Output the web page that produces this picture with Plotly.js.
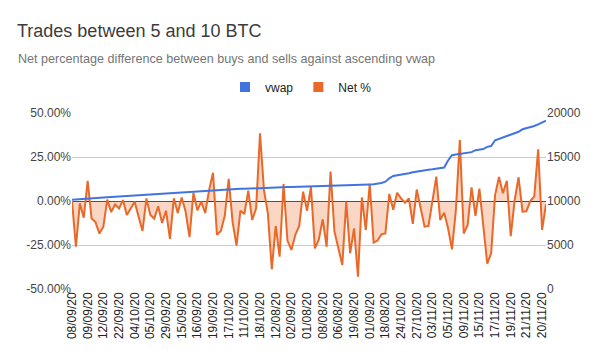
<!DOCTYPE html>
<html><head><meta charset="utf-8">
<script src="https://cdn.plot.ly/plotly-3.0.1.min.js"></script>
<style>html,body{margin:0;padding:0;background:#fff}#chart{width:600px;height:364px}</style>
</head><body><div id="chart"></div><script>
const netPct = [0, -26, -1.3, -9.5, 11.5, -10, -12, -18.5, -14.6, 0.8,
 -6.3, -2, -4.3, 0.5, -8, -4.5, -0.4, -9, -17, 1.5,
 -8, -10, -3, -12.5, -5.5, -21.5, 1.5, -6.8, 2, -6,
 -20.5, 4.7, -5.3, -0.4, -6.8, 6.2, 16, -19.2, -17, -8.4,
 12.6, -12, -25.3, -5.5, -7.4, 5.9, -10.8, -4.2, 38.4, 6.3,
 -7, -38.8, -14.2, -31.6, 9.7, -22.5, -27.8, -19.3, -14.2, 5.3,
 -5.5, 8, -26.9, -22, -10.4, -26, 16.7, -17.4, -26.9, -36.4,
 -0.4, -29.7, -15.5, -43, 2, -16.5, 9.7, -23.7, -22.5, -18.9,
 -18.4, 4, -5, 4.7, 1.5, -1, 1.5, -13, 6.5, -5,
 -14.6, -14.2, 0, 13.8, -10.8, -6.6, -15.5, -27.5, -5, 34.7,
 -18.5, -13.6, 7.8, -8.5, 7, -14.5, -35.6, -29.7, 3.4, 13.6,
 4.4, 11.5, -20, 0.5, 13.5, -6, -5.8, 0, 2.6, 29.4,
 -16.5, -1.8];

const vwap = [10150,10190,10220,10250,10280,10310,10340,10370,10400,10430,
 10460,10490,10520,10550,10580,10610,10640,10670,10700,10740,
 10780,10800,10830,10850,10880,10900,10920,10950,10970,11000,
 11020,11050,11080,11110,11150,11180,11210,11250,11280,11320,
 11350,11360,11370,11380,11390,11400,11410,11430,11440,11460,
 11480,11500,11520,11540,11560,11580,11600,11610,11630,11650,
 11660,11680,11690,11700,11720,11730,11740,11760,11770,11780,
 11800,11810,11820,11840,11850,11870,11880,11900,11950,12050,
 12190,12580,12840,12900,12950,13050,13150,13260,13350,13440,
 13500,13550,13600,13660,13720,13800,14600,15200,15280,15350,
 15420,15480,15550,15780,15840,15900,16150,16250,16900,17050,
 17200,17390,17550,17700,17870,18150,18250,18400,18520,18700,
 18900,19130];

const tickLabels = ['08/09/20','09/09/20','12/09/20','22/09/20','04/10/20','05/10/20','29/09/20','15/09/20',
 '16/09/20','19/09/20','17/10/20','11/10/20','18/10/20','12/08/20','02/09/20','01/08/20','08/08/20',
 '06/08/20','19/08/20','01/09/20','18/08/20','24/10/20','27/10/20','03/11/20','05/11/20','09/11/20',
 '15/11/20','17/11/20','19/11/20','21/11/20','20/11/20'];

const leftTicks = [-50, -25, 0, 25, 50];
const leftTickText = ['-50.00%', '-25.00%', '0.00%', '25.00%', '50.00%'];
const rightTicks = [0, 5000, 10000, 15000, 20000];
const rightTickText = ['0', '5000', '10000', '15000', '20000'];

const idx = netPct.map((_, i) => i);
const tickIdx = tickLabels.map((_, k) => k * 4);

const BLUE = '#4274e0';
const ORANGE = '#e8692a';
const FONT = 'Arial, "Liberation Sans", sans-serif';

const traces = [
  {x: idx, y: netPct, type: 'scatter', mode: 'lines', fill: 'tozeroy',
   fillcolor: 'rgba(238,120,60,0.3)', line: {color: ORANGE, width: 2},
   yaxis: 'y', showlegend: false, hoverinfo: 'skip'},
  {x: idx, y: vwap, type: 'scatter', mode: 'lines', line: {color: BLUE, width: 2},
   yaxis: 'y2', showlegend: false, hoverinfo: 'skip'},
  {x: [null], y: [null], type: 'scatter', mode: 'markers', name: 'vwap',
   marker: {symbol: 'square', size: 10, color: BLUE}},
  {x: [null], y: [null], type: 'scatter', mode: 'markers', name: 'Net %',
   marker: {symbol: 'square', size: 10, color: ORANGE}}
];

const layout = {
  width: 600, height: 364,
  margin: {l: 72, r: 54, t: 113, b: 75},
  paper_bgcolor: '#fff', plot_bgcolor: '#fff',
  font: {family: FONT, color: '#444', size: 12},
  title: {text: 'Trades between 5 and 10 BTC', x: 17/600, xanchor: 'left',
          xref: 'container', yref: 'container', y: 1 - 31/364, yanchor: 'middle',
          font: {family: FONT, size: 18, color: '#3c3c3c'}},
  annotations: [{text: 'Net percentage difference between buys and sells against ascending vwap',
    xref: 'paper', yref: 'paper', x: (16-72)/474, y: (289-59)/176, xanchor: 'left', yanchor: 'middle',
    showarrow: false, font: {family: FONT, size: 12.6, color: '#757575'}}],
  legend: {orientation: 'h', x: 0.5 - 8/474, xanchor: 'center', y: 1 + 26/176, yanchor: 'middle',
           font: {family: FONT, size: 12, color: '#222'}, itemwidth: 30, bgcolor: 'rgba(0,0,0,0)'},
  xaxis: {range: [0, 121], tickvals: tickIdx, ticktext: tickLabels, tickangle: -90,
          showgrid: false, zeroline: false, showline: false, ticks: '',
          tickfont: {family: FONT, size: 12, color: '#222'}, fixedrange: true},
  yaxis: {range: [-50, 50], tickvals: leftTicks, ticktext: leftTickText,
          gridcolor: '#cccccc', gridwidth: 1, zeroline: true, zerolinecolor: '#333', zerolinewidth: 1,
          ticks: '', showline: false, tickfont: {family: FONT, size: 12, color: '#444'}},
  yaxis2: {range: [0, 20000], tickvals: rightTicks, ticktext: rightTickText, overlaying: 'y', side: 'right',
           showgrid: false, zeroline: false, ticks: '', showline: false,
           tickfont: {family: FONT, size: 12, color: '#444'}}
};

Plotly.newPlot('chart', traces, layout, {staticPlot: true, displayModeBar: false});
</script></body></html>
